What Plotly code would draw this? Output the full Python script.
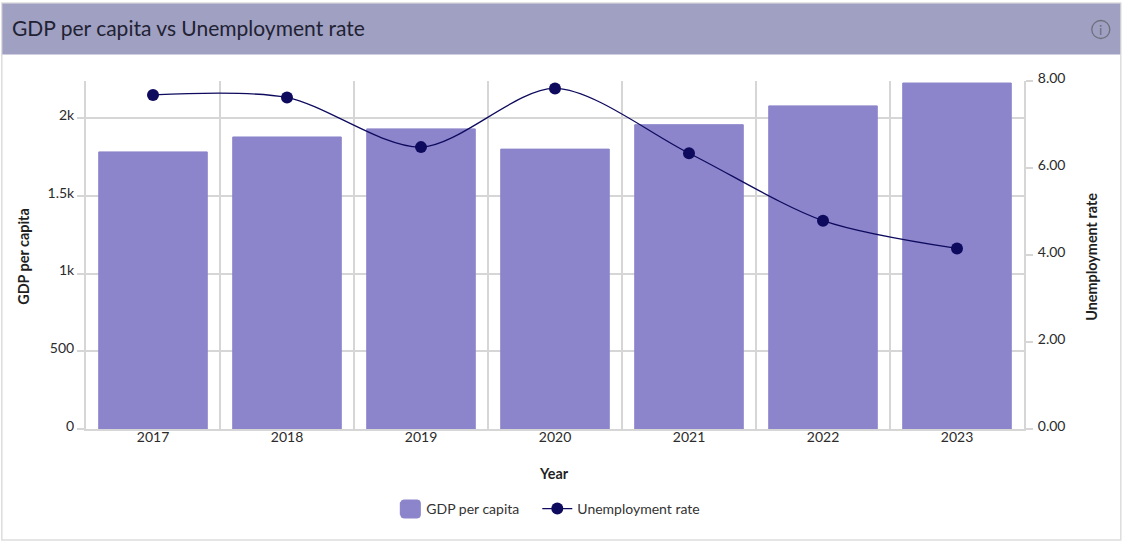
import plotly.graph_objects as go

years = ["2017", "2018", "2019", "2020", "2021", "2022", "2023"]
gdp_per_capita = [1782, 1878, 1930, 1800, 1957, 2078, 2225]
unemployment_rate = [7.68, 7.62, 6.48, 7.83, 6.34, 4.79, 4.15]
gdp_ticks = [0, 500, 1000, 1500, 2000]
gdp_tick_labels = ["0", "500", "1k", "1.5k", "2k"]
rate_ticks = [0, 2, 4, 6, 8]
rate_tick_labels = ["0.00", "2.00", "4.00", "6.00", "8.00"]

FONT = "Lato"
GRID = "#d6d6d6"
W, H = 1124, 541
L, R, T, B = 85.7, 100.3, 81, 112
PW, PH = W - L - R, H - T - B

def px(x):
    return (x - L) / PW

def py(y):
    return (H - B - y) / PH

fig = go.Figure()
fig.add_trace(go.Bar(
    x=years, y=gdp_per_capita, name="GDP per capita", yaxis="y",
    marker=dict(color="#8c85cb", line=dict(color="#8c85cb", width=1)),
))
fig.add_trace(go.Scatter(
    x=years, y=unemployment_rate, name="Unemployment rate", yaxis="y2", legend="legend2",
    mode="lines+markers",
    line=dict(color="#0e0b5e", width=1.3, shape="spline", smoothing=0.85),
    marker=dict(color="#0e0b5e", size=12),
))

x0, x1, y0, y1, r = 400.5, 420, 500, 518, 3
swatch = (
    f"M {px(x0+r)} {py(y0)} L {px(x1-r)} {py(y0)} Q {px(x1)} {py(y0)} {px(x1)} {py(y0+r)} "
    f"L {px(x1)} {py(y1-r)} Q {px(x1)} {py(y1)} {px(x1-r)} {py(y1)} "
    f"L {px(x0+r)} {py(y1)} Q {px(x0)} {py(y1)} {px(x0)} {py(y1-r)} "
    f"L {px(x0)} {py(y0+r)} Q {px(x0)} {py(y0)} {px(x0+r)} {py(y0)} Z"
)

fig.update_layout(
    width=W, height=H, autosize=False,
    margin=dict(l=L, r=R, t=T, b=B),
    paper_bgcolor="white", plot_bgcolor="white",
    font=dict(family=FONT, size=14, color="#2b2b2b"),
    bargap=0.19,
    showlegend=True,
    legend=dict(orientation="h", xanchor="left", yanchor="middle", bgcolor="rgba(0,0,0,0)",
                x=px(386), y=py(509), font=dict(size=14, color="#333333"), itemwidth=30),
    legend2=dict(orientation="h", xanchor="left", yanchor="middle", bgcolor="rgba(0,0,0,0)",
                 x=px(537), y=py(509), font=dict(size=14, color="#333333"), itemwidth=30),
    xaxis=dict(
        type="category", tickson="boundaries", showgrid=True, gridcolor=GRID, gridwidth=2,
        showline=True, linecolor=GRID, linewidth=2, ticks="", tickfont=dict(size=14),
        zeroline=False, ticklabelstandoff=-6,
    ),
    yaxis=dict(
        range=[0, 2238], tickmode="array", tickvals=gdp_ticks, ticktext=gdp_tick_labels,
        showgrid=True, gridcolor=GRID, gridwidth=2, ticks="outside", ticklen=7, tickwidth=2,
        tickcolor=GRID, showline=True, linecolor=GRID, linewidth=2, zeroline=False,
        tickfont=dict(size=14), ticklabelshift=-3,
    ),
    yaxis2=dict(
        range=[0, 8], overlaying="y", side="right", tickmode="array",
        tickvals=rate_ticks, ticktext=rate_tick_labels, showgrid=False,
        ticks="outside", ticklen=7, tickwidth=2, tickcolor=GRID,
        showline=True, linecolor=GRID, linewidth=2, zeroline=False,
        tickfont=dict(size=14), ticklabelshift=-3, ticklabelstandoff=2,
    ),
    shapes=[
        dict(type="rect", xref="paper", yref="paper", x0=px(1.5), x1=px(1120.5), y0=py(540), y1=py(3),
             line=dict(color="#dddddd", width=1.5), fillcolor="rgba(0,0,0,0)", layer="below"),
        dict(type="rect", xref="paper", yref="paper", x0=px(2), x1=px(1120), y0=py(54.5), y1=py(3.5),
             line=dict(width=0), fillcolor="#9fa0c2", layer="below"),
        dict(type="circle", xref="paper", yref="paper", x0=px(1091.5), x1=px(1109.5), y0=py(38.5), y1=py(20.5),
             line=dict(color="#6f6f7c", width=1.3), fillcolor="rgba(0,0,0,0)"),
        dict(type="path", xref="paper", yref="paper", path=swatch,
             line=dict(color="#8c85cb", width=1), fillcolor="#8c85cb"),
    ],
    annotations=[
        dict(text="GDP per capita vs Unemployment rate", xref="paper", yref="paper", x=px(9.5), y=py(27.5),
             xanchor="left", yanchor="middle", showarrow=False, font=dict(size=21, color="#222233")),
        dict(text="i", xref="paper", yref="paper", x=px(1100.5), y=py(29.5), xanchor="center", yanchor="middle",
             showarrow=False, font=dict(size=14, color="#6f6f7c")),
        dict(text="<b>Year</b>", xref="paper", yref="paper", x=px(554), y=py(473), xanchor="center",
             yanchor="middle", showarrow=False, font=dict(size=14.4, color="#1f1f1f")),
        dict(text="<b>GDP per capita</b>", xref="paper", yref="paper", x=px(23), y=py(256.5), xanchor="center",
             yanchor="middle", textangle=-90, showarrow=False, font=dict(size=14.4, color="#1f1f1f")),
        dict(text="<b>Unemployment rate</b>", xref="paper", yref="paper", x=px(1091), y=py(256.5), xanchor="center",
             yanchor="middle", textangle=-90, showarrow=False, font=dict(size=14.4, color="#1f1f1f")),
    ],
)

fig.write_html("out.html", config=dict(displayModeBar=False),
               post_script="document.body.style.margin='0';document.body.style.overflow='hidden';")
